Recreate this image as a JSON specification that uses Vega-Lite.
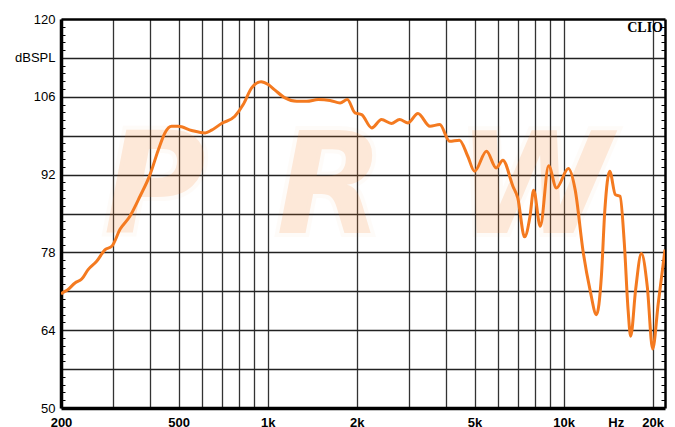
{
  "$schema": "https://vega.github.io/schema/vega-lite/v6.json",
  "width": 604,
  "height": 389,
  "autosize": "none",
  "padding": {"left": 61, "top": 19, "right": 10, "bottom": 19},
  "background": "white",
  "config": {"view": {"stroke": null}, "font": "Liberation Sans"},
  "resolve": {"axis": {"x": "independent", "y": "independent"}},
  "layer": [
    {
      "data": {"values": [{"t": "P"}]},
      "mark": {"type": "text", "text": "P", "font": "DejaVu Sans", "fontWeight": "bold", "fontStyle": "italic", "fontSize": 140, "color": "#F47B20", "opacity": 0.17, "stroke": "#F47B20", "strokeWidth": 8, "strokeOpacity": 0.17, "baseline": "alphabetic", "align": "center"},
      "encoding": {
        "x": {"datum": 415, "type": "quantitative", "scale": {"type": "log", "domain": [200, 22020], "nice": false},
          "axis": {"orient": "bottom", "values": [200,300,400,500,600,700,800,900,1000,2000,3000,4000,5000,6000,7000,8000,9000,10000,20000], "grid": true, "gridColor": "#333", "gridWidth": 1.3, "gridOpacity": 1, "domain": false, "ticks": false, "labels": false, "title": null}},
        "y": {"datum": 81.5, "type": "quantitative", "scale": {"domain": [50, 120], "nice": false, "zero": false},
          "axis": {"orient": "left", "values": [57,64,71,78,85,92,99,106,113], "grid": true, "gridColor": "#222", "gridWidth": 1.3, "gridOpacity": 1, "domain": false, "ticks": false, "labels": false, "title": null}}
      }
    },
    {
      "data": {"values": [{"t": "R"}]},
      "mark": {"type": "text", "text": "R", "font": "DejaVu Sans", "fontWeight": "bold", "fontStyle": "italic", "fontSize": 140, "color": "#F47B20", "opacity": 0.17, "stroke": "#F47B20", "strokeWidth": 8, "strokeOpacity": 0.17, "baseline": "alphabetic", "align": "center"},
      "encoding": {
        "x": {"datum": 1624, "type": "quantitative", "scale": {"type": "log", "domain": [200, 22020], "nice": false},
          "axis": {"orient": "top", "grid": false, "domain": true, "domainColor": "black", "domainWidth": 2.5, "ticks": false, "labels": false, "title": null}},
        "y": {"datum": 81.5, "type": "quantitative", "scale": {"domain": [50, 120], "nice": false, "zero": false},
          "axis": {"orient": "left", "values": [51.4,52.8,54.2,55.6,58.4,59.8,61.2,62.6,65.4,66.8,68.2,69.6,72.4,73.8,75.2,76.6,79.4,80.8,82.2,83.6,86.4,87.8,89.2,90.6,93.4,94.8,96.2,97.6,100.4,101.8,103.2,104.6,107.4,108.8,110.2,111.6,114.4,115.8,117.2,118.6], "grid": false, "domain": false, "ticks": true, "tickSize": -4, "tickColor": "black", "tickWidth": 1, "labels": false, "title": null}}
      }
    },
    {
      "data": {"values": [{"t": "W"}]},
      "mark": {"type": "text", "text": "W", "font": "DejaVu Sans", "fontWeight": "bold", "fontStyle": "italic", "fontSize": 140, "color": "#F47B20", "opacity": 0.17, "stroke": "#F47B20", "strokeWidth": 8, "strokeOpacity": 0.17, "baseline": "alphabetic", "align": "center"},
      "encoding": {
        "x": {"datum": 7970, "type": "quantitative", "scale": {"type": "log", "domain": [200, 22020], "nice": false}, "axis": null},
        "y": {"datum": 81.5, "type": "quantitative", "scale": {"domain": [50, 120], "nice": false, "zero": false},
          "axis": {"orient": "right", "values": [51.4,52.8,54.2,55.6,58.4,59.8,61.2,62.6,65.4,66.8,68.2,69.6,72.4,73.8,75.2,76.6,79.4,80.8,82.2,83.6,86.4,87.8,89.2,90.6,93.4,94.8,96.2,97.6,100.4,101.8,103.2,104.6,107.4,108.8,110.2,111.6,114.4,115.8,117.2,118.6], "grid": false, "domain": true, "domainColor": "black", "domainWidth": 2.5, "ticks": true, "tickSize": -4, "tickColor": "black", "tickWidth": 1, "labels": false, "title": null}}
      }
    },
    {
      "data": {"values": [
        {"f": 200, "db": 70.5}, {"f": 201, "db": 70.6}, {"f": 211, "db": 71.3}, {"f": 223, "db": 72.5},
        {"f": 235, "db": 73.2}, {"f": 247, "db": 74.9}, {"f": 264, "db": 76.4}, {"f": 282, "db": 78.5},
        {"f": 297, "db": 79.1}, {"f": 317, "db": 82.2}, {"f": 342, "db": 84.5}, {"f": 370, "db": 88.1},
        {"f": 400, "db": 92.0}, {"f": 427, "db": 96.5}, {"f": 449, "db": 99.5}, {"f": 473, "db": 100.7},
        {"f": 498, "db": 100.7}, {"f": 553, "db": 99.95}, {"f": 614, "db": 99.5}, {"f": 646, "db": 100.0},
        {"f": 698, "db": 101.2}, {"f": 774, "db": 102.5}, {"f": 826, "db": 104.6}, {"f": 882, "db": 107.6},
        {"f": 949, "db": 108.7}, {"f": 1004, "db": 108.2}, {"f": 1058, "db": 107.2}, {"f": 1144, "db": 105.8},
        {"f": 1252, "db": 105.2}, {"f": 1354, "db": 105.2}, {"f": 1482, "db": 105.5}, {"f": 1624, "db": 105.35},
        {"f": 1756, "db": 104.9}, {"f": 1858, "db": 105.5}, {"f": 1972, "db": 103.1}, {"f": 2076, "db": 102.8},
        {"f": 2246, "db": 100.4}, {"f": 2424, "db": 101.9}, {"f": 2618, "db": 101.2}, {"f": 2790, "db": 101.9},
        {"f": 2980, "db": 101.3}, {"f": 3218, "db": 103.0}, {"f": 3534, "db": 100.7}, {"f": 3814, "db": 101.0},
        {"f": 4118, "db": 98.0}, {"f": 4446, "db": 98.2}, {"f": 4744, "db": 95.3}, {"f": 5000, "db": 92.6},
        {"f": 5486, "db": 96.2}, {"f": 5920, "db": 93.2}, {"f": 6234, "db": 94.6}, {"f": 6740, "db": 89.9},
        {"f": 7000, "db": 87.8}, {"f": 7380, "db": 80.8}, {"f": 7700, "db": 84.5}, {"f": 7920, "db": 89.2},
        {"f": 8340, "db": 82.7}, {"f": 8900, "db": 93.6}, {"f": 9460, "db": 89.6}, {"f": 10380, "db": 93.1},
        {"f": 10940, "db": 89.3}, {"f": 11660, "db": 77.9}, {"f": 12280, "db": 71.3}, {"f": 12920, "db": 66.8},
        {"f": 13420, "db": 73.7}, {"f": 13790, "db": 85.7}, {"f": 14320, "db": 92.6}, {"f": 14960, "db": 88.4},
        {"f": 15520, "db": 88.1}, {"f": 16040, "db": 79.7}, {"f": 16520, "db": 67.7}, {"f": 16860, "db": 62.9},
        {"f": 17520, "db": 71.3}, {"f": 18320, "db": 77.8}, {"f": 19180, "db": 71.9}, {"f": 20000, "db": 60.6},
        {"f": 20900, "db": 68.9}, {"f": 22020, "db": 78.5}
      ]},
      "mark": {"type": "line", "interpolate": "monotone", "color": "#F47A20", "strokeWidth": 3, "clip": true},
      "encoding": {
        "x": {"field": "f", "type": "quantitative", "scale": {"type": "log", "domain": [200, 22020], "nice": false},
          "axis": {"orient": "bottom", "values": [200, 500, 1000, 2000, 5000, 10000, 15000, 20000],
            "labelExpr": "datum.value == 15000 ? 'Hz' : datum.value >= 1000 ? (datum.value / 1000) + 'k' : datum.label",
            "grid": false, "ticks": false, "domain": true, "domainColor": "black", "domainWidth": 3.5,
            "labelFont": "Liberation Sans", "labelFontWeight": "bold", "labelFontSize": 13, "labelColor": "black", "labelPadding": 8, "labelBaseline": "top", "labelFlush": false, "labelOverlap": false, "title": null}},
        "y": {"field": "db", "type": "quantitative", "scale": {"domain": [50, 120], "nice": false, "zero": false},
          "axis": {"orient": "left", "values": [50, 64, 78, 92, 106, 113, 120],
            "labelExpr": "datum.value == 113 ? 'dBSPL' : datum.label",
            "grid": false, "ticks": false, "domain": true, "domainColor": "black", "domainWidth": 3.5,
            "labelFont": "Liberation Sans", "labelFontSize": 13, "labelColor": "black", "labelPadding": 6, "labelFlush": false, "labelOverlap": false, "title": null}}
      }
    },
    {
      "data": {"values": [{"t": "CLIO"}]},
      "mark": {"type": "text", "font": "Liberation Serif", "fontWeight": "bold", "fontSize": 14, "color": "black", "align": "right", "baseline": "top", "dx": -2, "dy": 2},
      "encoding": {
        "text": {"field": "t"},
        "x": {"datum": 22020, "type": "quantitative", "scale": {"type": "log", "domain": [200, 22020], "nice": false}, "axis": null},
        "y": {"datum": 120, "type": "quantitative", "scale": {"domain": [50, 120], "nice": false, "zero": false}, "axis": null}
      }
    }
  ]
}
